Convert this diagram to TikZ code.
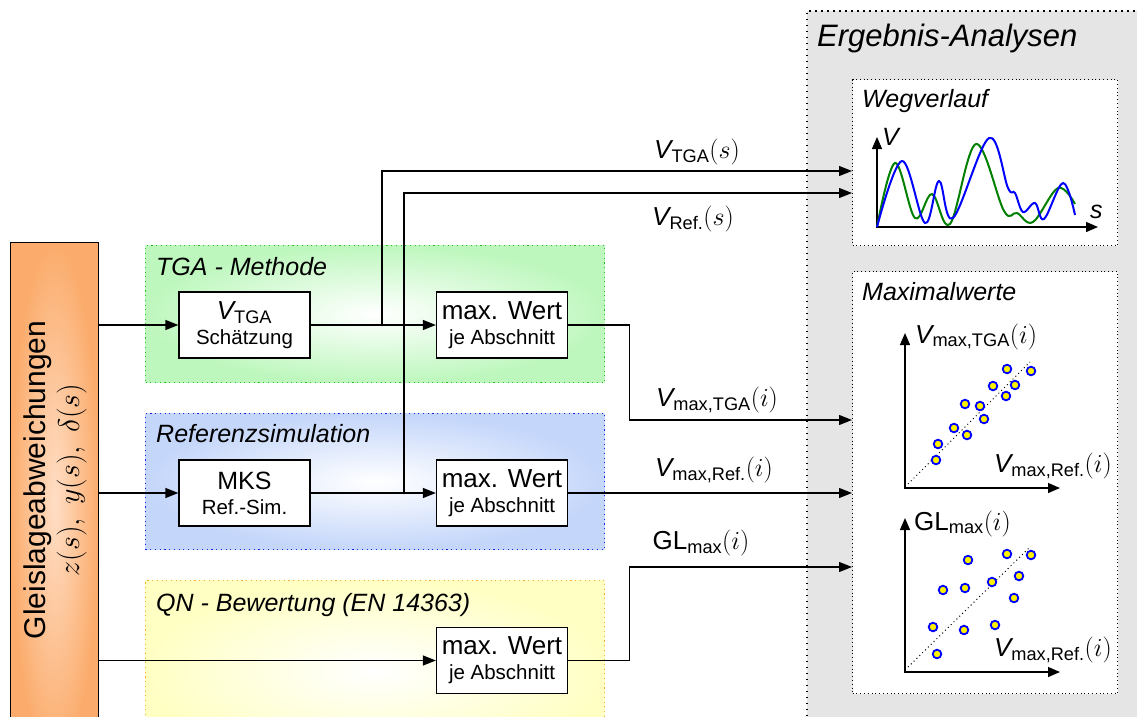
\RequirePackage{fix-cm}
\documentclass[tikz,border=0pt]{standalone}
\usepackage{amsmath}
\usepackage[no-math]{fontspec}
\setmainfont{Liberation Sans}
\usetikzlibrary{arrows.meta,positioning}

\definecolor{srcIn}{RGB}{255,222,198}
\definecolor{srcOut}{RGB}{251,172,108}
\definecolor{tgaOut}{RGB}{190,247,190}
\definecolor{tgaDot}{RGB}{40,190,40}
\definecolor{refOut}{RGB}{196,214,250}
\definecolor{refDot}{RGB}{30,30,230}
\definecolor{qnOut}{RGB}{255,255,196}
\definecolor{qnDot}{RGB}{250,170,40}
\definecolor{anaGray}{RGB}{229,229,229}

\newcommand{\fsz}[2]{\fontsize{#1}{#2}\selectfont}
\newcommand{\Vsym}[1]{\textit{V}_{\text{#1}}}

\begin{document}
\begin{tikzpicture}[x=1pt, y=-1pt,
    block/.style={draw, line width=1.3pt, fill=white, minimum width=131pt, minimum height=66pt, inner sep=0pt, align=center, font=\fsz{20.5}{25}},
    grp/.style={anchor=north west, inner sep=0pt, line width=1.3pt, dash pattern=on 1.1pt off 3.6pt, inner color=white},
    grpTitle/.style={anchor=base west, inner sep=0pt, font=\fsz{25}{28}\itshape},
    lbl/.style={inner sep=0pt, font=\fsz{26}{28}},
    arr/.style={line width=1.3pt, -{Triangle[length=13pt,width=10pt]}},
    axs/.style={line width=1.3pt, {Triangle[length=12pt,width=10pt]}-{Triangle[length=12pt,width=10pt]}},
    panel/.style={draw, anchor=north west, fill=white, line width=1pt, dash pattern=on 1pt off 2.8pt, inner sep=0pt},
    mpt/.style={circle, draw=blue, fill=yellow, line width=1.8pt, minimum size=8.6pt, inner sep=0pt},
    guide/.style={line width=1pt, dash pattern=on 1pt off 3pt}
  ]
  \useasboundingbox (0,0) rectangle (1137,716);
  \clip (0,0) rectangle (1137,716);

  % Ergebnis-Bereich
  \node[draw, anchor=north west, inner sep=0pt, fill=anaGray, line width=1.6pt, dash pattern=on 1.6pt off 4.4pt, minimum width=360pt, minimum height=730pt] (ana) at (806,10) {};
  \node[grpTitle, font=\fsz{31}{34}\itshape] (anaT) at (817,46) {Ergebnis-Analysen};
  \node[panel, minimum width=265pt, minimum height=166pt] (weg) at (852,79) {};
  \node[grpTitle] (wegT) at (862,107) {Wegverlauf};
  \node[panel, minimum width=265pt, minimum height=422pt] (maxw) at (852,271) {};
  \node[grpTitle] (maxwT) at (862,300) {Maximalwerte};

  % Eingang
  \node[draw, line width=1.3pt, anchor=north west, inner sep=0pt, minimum width=88pt, minimum height=520pt, inner color=srcIn, outer color=srcOut] (src) at (10,242) {};
  \node[rotate=90, align=center, font=\fsz{30}{34}] (srcT) at (55,480) {Gleislageabweichungen\\ $z(s),\ y(s),\ \delta(s)$};

  % Gruppen
  \node[grp, draw=tgaDot, outer color=tgaOut, minimum width=459pt, minimum height=137pt] (grpTGA) at (145,245) {};
  \node[grp, draw=refDot, outer color=refOut, minimum width=459pt, minimum height=136pt] (grpRef) at (145,413) {};
  \node[grp, draw=qnDot, outer color=qnOut, minimum width=459pt, minimum height=180pt] (grpQN) at (145,580) {};
  \node[grpTitle] at (156,275) {TGA - Methode};
  \node[grpTitle] at (156,442) {Referenzsimulation};
  \node[grpTitle] at (156,611) {QN - Bewertung (EN 14363)};

  % Bloecke
  \node[block] (tga) at (244.5,325) {{\fsz{26}{25}$\Vsym{TGA}$}\\ Schätzung};
  \node[block] (maxA) at (502,325) {{\fsz{26}{25}max. Wert}\\ je Abschnitt};
  \node[block] (mks) at (244.5,493) {{\fsz{25}{25}MKS}\\ Ref.-Sim.};
  \node[block] (maxB) at (502,493) {{\fsz{26}{25}max. Wert}\\ je Abschnitt};
  \node[block] (maxC) at (502,660.5) {{\fsz{26}{25}max. Wert}\\ je Abschnitt};

  % Verbindungen
  \draw[arr] (src.east |- tga.west) -- (tga.west);
  \draw[arr] (tga.east) -- (maxA.west);
  \draw[arr] (src.east |- mks.west) -- (mks.west);
  \draw[arr] (mks.east) -- (maxB.west);
  \draw[arr] (src.east |- maxC.west) -- (maxC.west);

  % Abzweige zum Wegverlauf
  \coordinate (jA) at (382,325);
  \coordinate (jB) at (404,493);
  \draw[arr] (jA) |- (weg.west |- 0,171);
  \draw[arr] (jB) |- (weg.west |- 0,193);
  \fill (jA) circle (1.4pt);
  \fill (jB) circle (1.4pt);

  % Maximalwerte
  \draw[arr] (maxA.east) -- ++(61,0) |- (maxw.west |- 0,420);
  \draw[arr] (maxB.east) -- (maxw.west |- maxB.east);
  \draw[arr] (maxC.east) -- ++(61,0) |- (maxw.west |- 0,567);

  \node[lbl] (lVtga) at (697,152) {$\Vsym{TGA}(s)$};
  \node[lbl] (lVref) at (693,219) {$\Vsym{Ref.}(s)$};
  \node[lbl] (lMtga) at (717,400) {$\Vsym{max,TGA}(i)$};
  \node[lbl] (lMref) at (714,470) {$\Vsym{max,Ref.}(i)$};
  \node[lbl] (lGL) at (701,543) {$\text{GL}_{\text{max}}(i)$};

  % Wegverlauf-Diagramm
  \coordinate (oW) at (877,227);
  \draw[axs] (877,137) -- (oW) -- (1098,227);
  \node[anchor=base west, inner sep=0pt, font=\fsz{25}{25}\itshape] at (882,145) {V};
  \node[anchor=base west, inner sep=0pt, font=\fsz{25}{25}\itshape] at (1090,218) {s};
  \draw[green!50!black, line width=2pt] plot[smooth, tension=0.6] coordinates {(877,227) (895,163) (915,218) (932,194) (950,224) (976,144) (1004,211) (1017,213) (1033,222) (1058,188) (1075,204)};
  \draw[blue, line width=2pt] plot[smooth, tension=0.6] coordinates {(877,227) (902,161) (925,223) (939,181) (953,218) (989,138) (1008,188) (1015,193) (1023,212) (1035,203) (1044,219) (1063,183) (1075,215)};

  % Streudiagramm TGA
  \coordinate (oA) at (905,488);
  \draw[guide] (908,484) -- (1030,362);
  \draw[axs] (905,333) -- (oA) -- (1060,488);
  \node[lbl, anchor=base west] at (915,343) {$\Vsym{max,TGA}(i)$};
  \node[lbl, anchor=base east] at (1112,472) {$\Vsym{max,Ref.}(i)$};
  \foreach \p in {(1007,369),(1031,371),(993,386),(1015,385),(1006,396),(965,404),(980,406),(984,419),(954,428),(967,435),(938,444),(936,460)}
    \node[mpt] at \p {};

  % Streudiagramm GL
  \coordinate (oB) at (905,672);
  \draw[guide] (908,667) -- (1030,547);
  \draw[axs] (905,518) -- (oB) -- (1060,672);
  \node[lbl, anchor=base west] at (914,530) {$\text{GL}_{\text{max}}(i)$};
  \node[lbl, anchor=base east] at (1112,656) {$\Vsym{max,Ref.}(i)$};
  \foreach \p in {(968,560),(1007,554),(1031,555),(1019,576),(992,582),(943,590),(965,588),(1014,598),(933,627),(964,630),(995,625),(937,654)}
    \node[mpt] at \p {};
\end{tikzpicture}
\end{document}
